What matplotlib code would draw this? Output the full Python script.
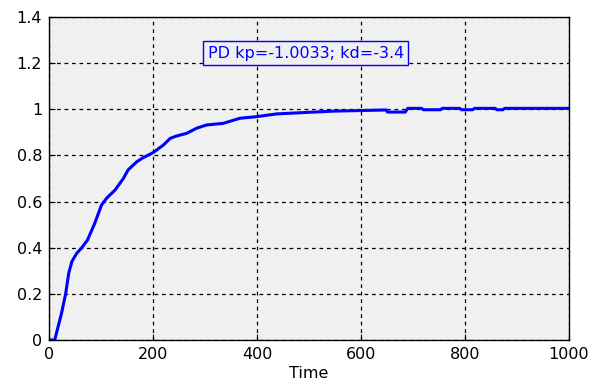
import matplotlib
matplotlib.use("Agg")
import matplotlib.pyplot as plt

# step response of the PD loop
time = [0, 11, 24, 32, 38, 44, 53, 63, 74, 88, 101, 111, 127, 143, 152, 169, 181,
        200, 220, 233, 245, 265, 284, 303, 335, 367, 399, 438, 483, 547, 649, 651,
        685, 690, 717, 720, 753, 756, 790, 793, 815, 818, 858, 861, 873, 876, 1000]
resp = [0, 0, 0.115, 0.20, 0.29, 0.34, 0.375, 0.40, 0.433, 0.506, 0.585, 0.615, 0.65,
        0.70, 0.737, 0.773, 0.79, 0.812, 0.845, 0.874, 0.884, 0.896, 0.918, 0.932,
        0.939, 0.961, 0.968, 0.980, 0.985, 0.992, 0.997, 0.988, 0.988, 1.004, 1.004,
        0.998, 0.998, 1.004, 1.004, 0.998, 0.998, 1.004, 1.004, 0.998, 0.998, 1.004, 1.004]

label = "PD kp=-1.0033; kd=-3.4"
xticks = [0, 200, 400, 600, 800, 1000]
yticks = [0, 0.2, 0.4, 0.6, 0.8, 1, 1.2, 1.4]
yticklabels = ["0", "0.2", "0.4", "0.6", "0.8", "1", "1.2", "1.4"]

plt.rcParams['font.family'] = ['DejaVu Sans']

fig = plt.figure(figsize=(5.95, 3.92), dpi=100)
ax = fig.add_axes([49 / 595, 1 - 340 / 392, 520 / 595, 323 / 392])
ax.set_facecolor('#f0f0f0')

ax.plot(time, resp, color='#0000ff', lw=2.2)

ax.set_xlim(0, 1000)
ax.set_ylim(0, 1.4)
ax.set_xticks(xticks)
ax.set_yticks(yticks)
ax.set_yticklabels(yticklabels)
ax.tick_params(direction='in', length=4, labelsize=11.5, pad=5, colors='black')
ax.grid(True, color='black', linestyle=(0, (3, 3)), linewidth=0.9)
for s in ax.spines.values():
    s.set_linewidth(1.0)
ax.set_xlabel('Time', fontsize=11.5, labelpad=3)

ax.text(494, 1.242, label, color='#0000ff', fontsize=11.5, ha='center', va='center',
        bbox=dict(boxstyle='square,pad=0.28', facecolor='#f0f0f0', edgecolor='#0000ff', linewidth=1))

fig.savefig('out.png', dpi=100, facecolor='white')
